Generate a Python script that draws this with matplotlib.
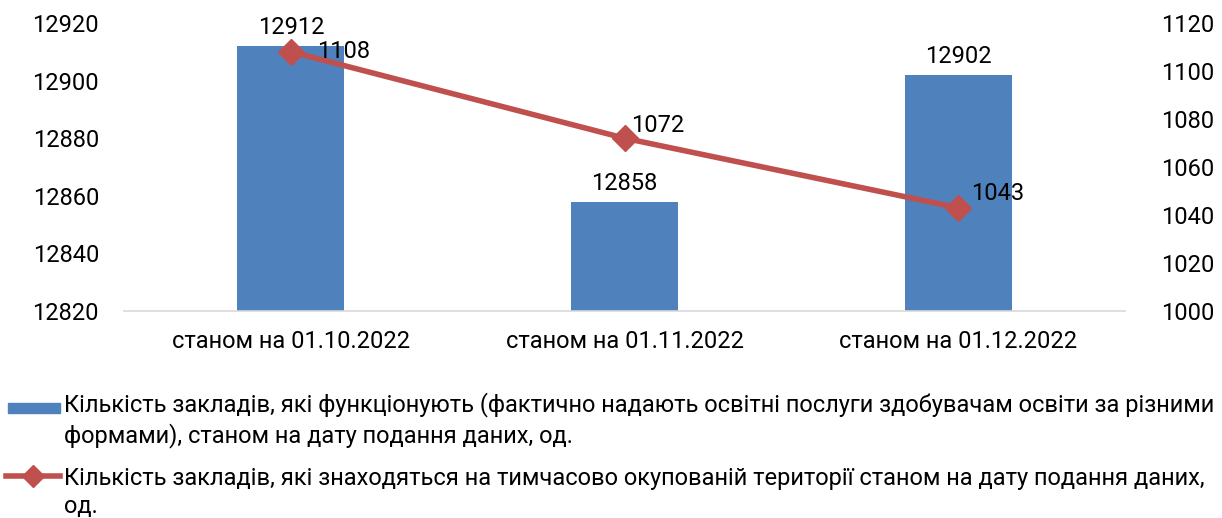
import matplotlib
matplotlib.use("Agg")
import matplotlib.pyplot as plt
from matplotlib.lines import Line2D
from matplotlib.patches import Rectangle

plt.rcParams['font.family'] = ['Roboto', 'DejaVu Sans']

# data
categories = ["станом на 01.10.2022", "станом на 01.11.2022", "станом на 01.12.2022"]
functioning = [12912, 12858, 12902]
occupied = [1108, 1072, 1043]
bar_label = ("Кількість закладів, які функціонують (фактично надають освітні послуги здобувачам освіти за різними\n"
             "формами), станом на дату подання даних, од.")
line_label = ("Кількість закладів, які знаходяться на тимчасово окупованій території станом на дату подання даних,\n"
              "од.")

BLUE = "#4F81BD"
RED = "#C0504D"
FS = 17

fig = plt.figure(figsize=(12.22, 5.18), dpi=100)
ax = fig.add_axes([0.1015, 0.3996, 0.8191, 0.556])
ax2 = ax.twinx()

x = list(range(len(categories)))
bars = ax.bar(x, functioning, width=0.32, color=BLUE, zorder=2)
ax.set_ylim(12820, 12920)
ax.set_yticks(range(12820, 12921, 20))
ax.set_xlim(-0.5, 2.5)
ax.set_xticks(x)
ax.set_xticklabels(categories)
for b, v in zip(bars, functioning):
    ax.annotate(str(v), (b.get_x() + b.get_width() / 2, v), xytext=(0, 5),
                textcoords="offset points", ha="center", va="bottom", fontsize=FS)

ax2.plot(x, occupied, color=RED, linewidth=4, marker="D", markersize=13, zorder=3)
ax2.set_ylim(1000, 1120)
ax2.set_yticks(range(1000, 1121, 20))
# label offsets (points) as placed in the original
label_offsets = [(19, 0), (5, 9), (9, 10)]
for xi, v, off in zip(x, occupied, label_offsets):
    ax2.annotate(str(v), (xi, v), xytext=off, textcoords="offset points",
                 ha="left", va="center", fontsize=FS)

for a in (ax, ax2):
    for s in a.spines.values():
        s.set_visible(False)
ax.spines['bottom'].set_visible(True)
ax.spines['bottom'].set_color("#D9D9D9")
ax.spines['bottom'].set_linewidth(1.2)
ax.tick_params(axis='y', length=0, pad=18, labelsize=FS)
ax.tick_params(axis='x', length=0, pad=14, labelsize=FS)
ax2.tick_params(axis='y', length=0, pad=26, labelsize=FS)

# legend drawn by hand (handle aligned with first line of wrapped text)
W, H = 1222, 518
fig.patches.append(Rectangle((8 / W, 1 - 413 / H), 52 / W, 10 / H,
                             transform=fig.transFigure, color=BLUE))
fig.text(64 / W, 1 - 392 / H, bar_label, ha="left", va="top", fontsize=FS,
         linespacing=1.3)
fig.lines.append(Line2D([6 / W, 60 / W], [1 - 476 / H] * 2, transform=fig.transFigure,
                        color=RED, linewidth=4))
fig.lines.append(Line2D([33 / W], [1 - 476 / H], transform=fig.transFigure,
                        color=RED, marker="D", markersize=11))
fig.text(64 / W, 1 - 467 / H, line_label, ha="left", va="top", fontsize=FS,
         linespacing=1.3)

fig.savefig("out.png", dpi=100)
